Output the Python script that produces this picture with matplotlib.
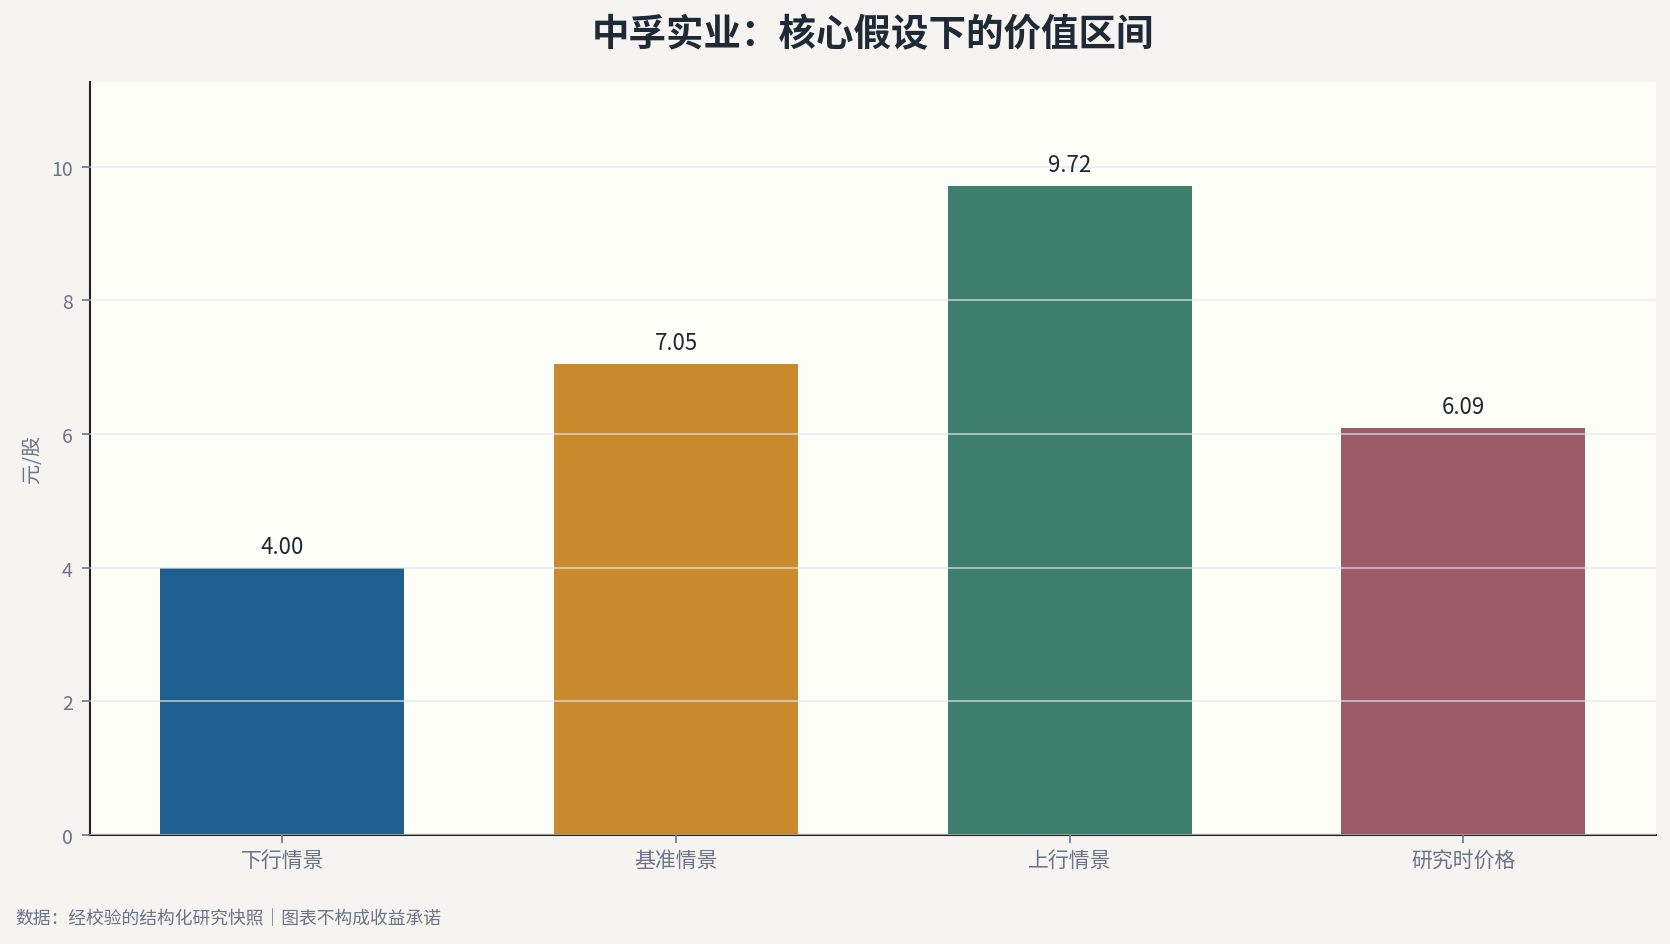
import matplotlib
matplotlib.use("Agg")
import matplotlib.pyplot as plt

plt.rcParams['font.family'] = ['Noto Sans CJK SC', 'DejaVu Sans']

categories = ["下行情景", "基准情景", "上行情景", "研究时价格"]
values = [4.00, 7.05, 9.72, 6.09]
colors = ["#1F5F8F", "#C98A2E", "#3F7F6D", "#9C5B66"]
yticks = [0, 2, 4, 6, 8, 10]

title = "中孚实业：核心假设下的价值区间"
ylabel = "元/股"
footer = "数据：经校验的结构化研究快照｜图表不构成收益承诺"

fig = plt.figure(figsize=(16.7, 9.45), dpi=100, facecolor="#F5F4F0")
ax = fig.add_axes([0.0536, 0.1155, 0.938, 0.797])
ax.set_facecolor("#FEFEF9")

x = list(range(len(categories)))
bars = ax.bar(x, values, width=0.62, color=colors, zorder=1)
ax.set_axisbelow(False)
ax.grid(axis='y', color="#E3E6EA", linewidth=1.2, alpha=0.75, zorder=2)
ax.set_ylim(0, max(values) * 1.16)
ax.set_xlim(-0.49, 3.49)
ax.set_yticks(yticks)
ax.set_xticks(x)
ax.set_xticklabels(categories)

for xi, v in zip(x, values):
    ax.annotate(f"{v:.2f}", (xi, v), xytext=(0, 7), textcoords="offset points",
                ha="center", va="bottom", fontsize=16, color="#1F2933")

for s in ["top", "right"]:
    ax.spines[s].set_visible(False)
for s in ["left", "bottom"]:
    ax.spines[s].set_color("#222222")
    ax.spines[s].set_linewidth(1.5)

ax.tick_params(axis='y', colors="#6B7488", labelsize=14, length=6, width=1.2, pad=6)
ax.tick_params(axis='x', colors="#6B7488", labelsize=15, length=6, width=1.2, pad=4)
ax.set_ylabel(ylabel, fontsize=14.5, color="#6B7488", labelpad=6)

fig.text(0.523, 0.963, title, ha="center", va="center", fontsize=27,
         fontweight="bold", color="#1F2A36")
fig.text(0.009, 0.027, footer, ha="left", va="center", fontsize=12.8, color="#6B7488")

fig.savefig("out.png", dpi=100, facecolor=fig.get_facecolor())
